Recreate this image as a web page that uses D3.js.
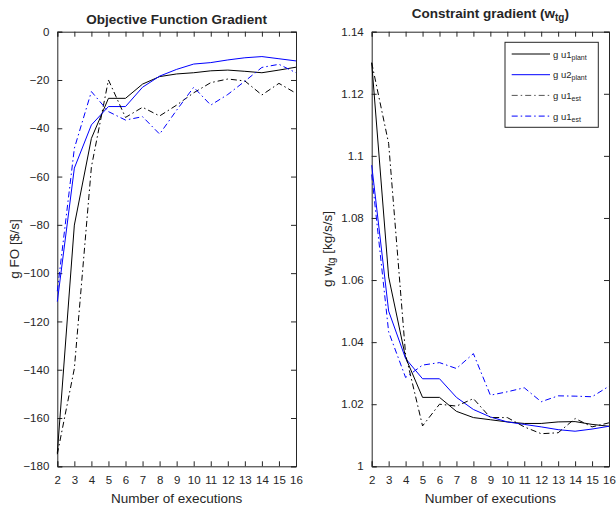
<!DOCTYPE html>
<html lang="en">
<head>
<meta charset="UTF-8">
<script src="https://cdn.jsdelivr.net/npm/d3@7"></script>
<style>
  html, body { margin: 0; padding: 0; background: #fff; }
  svg { display: block; }
  text { font-family: "Liberation Sans", Arial, Helvetica, sans-serif; fill: #262626; }
</style>
</head>
<body>
<svg id="chart" width="616" height="506"></svg>
<script>
// executions on the x axis
var runs = [2, 3, 4, 5, 6, 7, 8, 9, 10, 11, 12, 13, 14, 15, 16];

// objective function gradient [$/s]
var foU1Plant = [-174.6, -80.1, -44.2, -27.6, -27.6, -21.7, -18.6, -17.5, -17.0, -16.2, -15.9, -16.4, -17.0, -15.9, -14.7];
var foU2Plant = [-111.8, -56.5, -38.6, -31.0, -31.0, -23.0, -18.4, -15.6, -13.4, -12.8, -11.7, -10.8, -10.3, -11.2, -12.1];
var foU1Est   = [-175.0, -139.5, -56.0, -20.0, -35.5, -31.3, -34.9, -30.4, -25.3, -21.1, -19.6, -20.4, -26.2, -21.4, -25.5];
var foU1Est2  = [-107.5, -48.3, -24.8, -33.1, -36.6, -35.2, -42.4, -32.5, -23.0, -30.4, -26.0, -20.5, -14.8, -13.5, -17.0];

// constraint gradient w_tg [kg/s/s]
var wU1Plant = [1.130, 1.061, 1.035, 1.0222, 1.0222, 1.0177, 1.0157, 1.0150, 1.0143, 1.0138, 1.0138, 1.0143, 1.0144, 1.0135, 1.0129];
var wU2Plant = [1.097, 1.050, 1.0347, 1.0282, 1.0282, 1.0222, 1.0183, 1.0159, 1.0143, 1.0135, 1.0127, 1.0118, 1.0113, 1.0120, 1.0129];
var wU1Est   = [1.130, 1.104, 1.036, 1.0130, 1.0200, 1.0194, 1.0218, 1.0157, 1.0157, 1.0127, 1.0105, 1.0108, 1.0154, 1.0127, 1.0140];
var wU1Est2  = [1.094, 1.0433, 1.0286, 1.0326, 1.0334, 1.0315, 1.0363, 1.0229, 1.0240, 1.0253, 1.0208, 1.0227, 1.0226, 1.0224, 1.0258];

// tick values
var xTicks = runs;
var foTicks = [0, -20, -40, -60, -80, -100, -120, -140, -160, -180];
var wTicks = [1, 1.02, 1.04, 1.06, 1.08, 1.1, 1.12, 1.14];

// legend entries
var legendMain = ["g u1", "g u2", "g u1", "g u1"];
var legendSub = ["plant", "plant", "est", "est"];

var svg = d3.select("#chart");
var DASHDOT = "6,3,1.5,3";
var styles = [
  {color: "#000", dash: null},
  {color: "#0000ff", dash: null},
  {color: "#000", dash: DASHDOT},
  {color: "#0000ff", dash: DASHDOT}
];

function panel(opt) {
  var x = d3.scaleLinear().domain([2, 16]).range([opt.left, opt.right]);
  var y = d3.scaleLinear().domain(opt.yDomain).range([opt.bottom, opt.top]);
  var g = svg.append("g");

  // box + ticks pointing inward, mirrored on top and right
  var bottomAx = g.append("g").attr("transform", "translate(0," + opt.bottom + ")")
    .call(d3.axisBottom(x).tickValues(xTicks).tickSize(-5).tickPadding(10).tickFormat(d3.format("d")));
  g.append("g").attr("transform", "translate(0," + opt.top + ")")
    .call(d3.axisTop(x).tickValues(xTicks).tickSize(-5).tickFormat(""));
  var leftAx = g.append("g").attr("transform", "translate(" + opt.left + ",0)")
    .call(d3.axisLeft(y).tickValues(opt.yTicks).tickSize(-5).tickPadding(8).tickFormat(opt.fmt));
  g.append("g").attr("transform", "translate(" + opt.right + ",0)")
    .call(d3.axisRight(y).tickValues(opt.yTicks).tickSize(-5).tickFormat(""));

  g.selectAll(".domain").attr("stroke", "#262626").attr("stroke-width", 1);
  g.selectAll(".tick line").attr("stroke", "#262626");
  g.selectAll(".tick text").style("font-size", "11.5px").attr("fill", "#262626");
  bottomAx.selectAll(".tick text").attr("dy", "0.71em");

  var line = d3.line().x(function(d, i) { return x(runs[i]); }).y(function(d) { return y(d); });
  opt.series.forEach(function(s, k) {
    g.append("path").datum(s)
      .attr("d", line)
      .attr("fill", "none")
      .attr("stroke", styles[k].color)
      .attr("stroke-width", 1)
      .attr("stroke-dasharray", styles[k].dash);
  });

  g.append("text")
    .attr("x", (opt.left + opt.right) / 2).attr("y", 503)
    .attr("text-anchor", "middle").style("font-size", "13.5px")
    .text("Number of executions");
  return {x: x, y: y, g: g};
}

function wFmt(d) { return String(+d.toFixed(2)); }

var p1 = panel({left: 57.3, right: 296, top: 31.7, bottom: 466.3,
  yDomain: [-180, 0], yTicks: foTicks, fmt: d3.format("d"),
  series: [foU1Plant, foU2Plant, foU1Est, foU1Est2]});

var p2 = panel({left: 371.7, right: 609, top: 31.7, bottom: 466.3,
  yDomain: [1, 1.14], yTicks: wTicks, fmt: wFmt,
  series: [wU1Plant, wU2Plant, wU1Est, wU1Est2]});

// titles
svg.append("text").attr("x", 176.7).attr("y", 24)
  .attr("text-anchor", "middle").style("font-size", "13.5px").style("font-weight", "bold")
  .text("Objective Function Gradient");

var t2 = svg.append("text").attr("x", 490.3).attr("y", 18)
  .attr("text-anchor", "middle").style("font-size", "13.5px").style("font-weight", "bold");
t2.append("tspan").text("Constraint gradient (w");
t2.append("tspan").attr("baseline-shift", "-30%").style("font-size", "10px").text("tg");
t2.append("tspan").text(")");

// y labels
svg.append("text").attr("transform", "translate(19,249) rotate(-90)")
  .attr("text-anchor", "middle").style("font-size", "13.5px")
  .text("g FO [$/s]");

var yl2 = svg.append("text").attr("transform", "translate(332,249) rotate(-90)")
  .attr("text-anchor", "middle").style("font-size", "13.5px");
yl2.append("tspan").text("g w");
yl2.append("tspan").attr("baseline-shift", "-30%").style("font-size", "10px").text("tg");
yl2.append("tspan").text(" [kg/s/s]");

// legend
var lg = svg.append("g");
lg.append("rect").attr("x", 505).attr("y", 42.3).attr("width", 93.3).attr("height", 85)
  .attr("fill", "#fff").attr("stroke", "#262626").attr("stroke-width", 1);
legendMain.forEach(function(name, i) {
  var yy = 54 + i * 20.7;
  lg.append("line").attr("x1", 511.7).attr("x2", 550).attr("y1", yy).attr("y2", yy)
    .attr("stroke", i === 2 ? "#555" : styles[i].color).attr("stroke-width", 1)
    .attr("stroke-dasharray", styles[i].dash);
  var t = lg.append("text").attr("x", 553).attr("y", yy + 3.5).style("font-size", "9.5px").attr("fill", "#000");
  t.append("tspan").text(name);
  t.append("tspan").attr("baseline-shift", "-35%").style("font-size", "7px").text(legendSub[i]);
});
</script>
</body>
</html>
